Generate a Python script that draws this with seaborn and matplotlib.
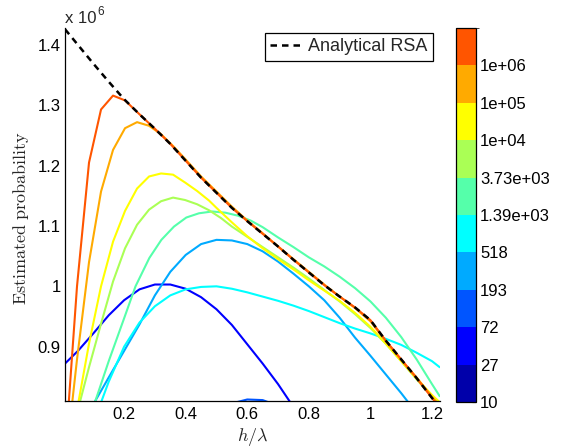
import numpy as np
import pandas as pd
import matplotlib
matplotlib.use("Agg")
import matplotlib as mpl
import matplotlib.pyplot as plt
import seaborn as sns
from matplotlib.colors import ListedColormap, BoundaryNorm
from matplotlib.ticker import FuncFormatter

# ---------------- data (values in units of 1e6) ----------------
bin_labels = ["10", "27", "72", "193", "518", "1.39e+03", "3.73e+03",
              "1e+04", "1e+05", "1e+06"]
bin_colors = ["#0000aa", "#0000ff", "#0055ff", "#00aaff", "#00ffff",
              "#55ffaa", "#aaff55", "#ffff00", "#ffaa00", "#ff5500"]

analytic_x = [0.008, 0.05, 0.1, 0.15, 0.2, 0.25, 0.3, 0.35, 0.4, 0.45, 0.5,
              0.55, 0.6, 0.65, 0.7, 0.75, 0.8, 0.85, 0.9, 0.95, 1.0, 1.05,
              1.1, 1.15, 1.2, 1.225]
analytic_y = [1.426, 1.400, 1.369, 1.339, 1.310, 1.285, 1.261, 1.236, 1.208,
              1.180, 1.155, 1.130, 1.108, 1.087, 1.066, 1.044, 1.023, 1.002,
              0.983, 0.965, 0.944, 0.910, 0.879, 0.848, 0.815, 0.800]

# bin "27"
b27_x = [0.008, 0.05, 0.1, 0.15, 0.2, 0.25, 0.3, 0.35, 0.4, 0.45, 0.5, 0.55,
         0.6, 0.65, 0.7, 0.75]
b27_y = [0.872, 0.893, 0.922, 0.952, 0.977, 0.995, 1.003, 1.003, 0.996,
         0.982, 0.962, 0.936, 0.904, 0.872, 0.838, 0.800]
# bin "72"
b72_x = [0.5, 0.55, 0.6, 0.65, 0.7]
b72_y = [0.795, 0.806, 0.8125, 0.8115, 0.802]
# bin "193"
b193_x = [0.08, 0.105, 0.15, 0.2, 0.25, 0.3, 0.35, 0.4, 0.45, 0.5, 0.55, 0.6,
          0.65, 0.7, 0.75, 0.8, 0.85, 0.9, 0.95, 1.0, 1.05, 1.1, 1.15]
b193_y = [0.785, 0.809, 0.849, 0.893, 0.937, 0.985, 1.024, 1.052, 1.070,
          1.077, 1.076, 1.070, 1.058, 1.041, 1.021, 1.000, 0.977, 0.948,
          0.915, 0.885, 0.854, 0.823, 0.790]
# bin "518"
b518_x = [0.1, 0.126, 0.15, 0.2, 0.25, 0.3, 0.35, 0.4, 0.45, 0.5, 0.55, 0.6,
          0.65, 0.7, 0.75, 0.8, 0.85, 0.9, 0.95, 1.0, 1.05, 1.1, 1.15, 1.2,
          1.225]
b518_y = [0.770, 0.809, 0.842, 0.900, 0.940, 0.967, 0.985, 0.995, 0.999,
          1.000, 0.996, 0.990, 0.983, 0.976, 0.968, 0.959, 0.949, 0.939,
          0.930, 0.922, 0.913, 0.903, 0.890, 0.876, 0.866]
# bin "1.39e+03"
b1390_x = [0.06, 0.1, 0.15, 0.2, 0.237, 0.282, 0.321, 0.362, 0.402, 0.443,
           0.486, 0.529, 0.57, 0.611, 0.65, 0.7, 0.75, 0.8, 0.85, 0.9, 0.95,
           1.0, 1.05, 1.1, 1.15, 1.2, 1.225]
b1390_y = [0.730, 0.800, 0.876, 0.947, 1.000, 1.047, 1.077, 1.099, 1.114,
           1.121, 1.124, 1.122, 1.117, 1.109, 1.098, 1.081, 1.065, 1.048,
           1.033, 1.016, 0.997, 0.975, 0.948, 0.916, 0.879, 0.838, 0.818]
# bin "3.73e+03"
b3730_x = [0.008, 0.047, 0.086, 0.125, 0.164, 0.203, 0.242, 0.281, 0.32,
           0.359, 0.398, 0.437, 0.476, 0.515, 0.55, 0.6, 0.65, 0.7, 0.75,
           0.8, 0.85, 0.9, 0.95, 1.0, 1.05, 1.1, 1.15, 1.2, 1.225]
b3730_y = [0.720, 0.790, 0.866, 0.938, 1.008, 1.063, 1.102, 1.127, 1.141,
           1.147, 1.143, 1.136, 1.126, 1.113, 1.099, 1.082, 1.065, 1.048,
           1.031, 1.013, 0.994, 0.975, 0.954, 0.931, 0.905, 0.876, 0.846,
           0.817, 0.804]
# bin "1e+04"
b1e4_x = [0.008, 0.047, 0.086, 0.125, 0.164, 0.203, 0.242, 0.281, 0.32,
          0.359, 0.398, 0.437, 0.476, 0.5, 0.55, 0.6, 0.65, 0.7, 0.75, 0.8,
          0.85, 0.9, 0.95, 1.0, 1.05, 1.1, 1.15, 1.2, 1.225]
b1e4_y = [0.670, 0.795, 0.905, 1.000, 1.074, 1.125, 1.162, 1.182, 1.187,
          1.185, 1.172, 1.158, 1.142, 1.130, 1.106, 1.083, 1.063, 1.045,
          1.028, 1.010, 0.993, 0.976, 0.956, 0.933, 0.905, 0.876, 0.847,
          0.820, 0.808]
# bin "1e+05"
b1e5_x = [0.008, 0.047, 0.086, 0.125, 0.164, 0.203, 0.242, 0.281, 0.32,
          0.36, 0.4, 0.45, 0.5, 0.55, 0.6, 0.65, 0.7, 0.75, 0.8, 0.85, 0.9,
          0.95, 1.0, 1.05, 1.1, 1.15, 1.2, 1.225]
b1e5_y = [0.700, 0.879, 1.040, 1.157, 1.226, 1.262, 1.272, 1.266, 1.252,
          1.232, 1.210, 1.182, 1.157, 1.132, 1.109, 1.088, 1.066, 1.045,
          1.024, 1.003, 0.983, 0.964, 0.942, 0.909, 0.878, 0.849, 0.817,
          0.803]
# bin "1e+06" (top colour)
b1e6_x = [0.008, 0.047, 0.086, 0.125, 0.164, 0.203, 0.25, 0.3, 0.35, 0.4,
          0.45, 0.5, 0.55, 0.6, 0.65, 0.7, 0.75, 0.8, 0.85, 0.9, 0.95, 1.0,
          1.05, 1.1, 1.15, 1.2, 1.225]
b1e6_y = [0.720, 1.000, 1.205, 1.293, 1.316, 1.308, 1.285, 1.261, 1.236,
          1.208, 1.180, 1.155, 1.130, 1.108, 1.087, 1.066, 1.044, 1.023,
          1.002, 0.983, 0.965, 0.944, 0.910, 0.879, 0.848, 0.815, 0.800]

curve_bins = [1, 2, 3, 4, 5, 6, 7, 8, 9]
curve_xs = [b27_x, b72_x, b193_x, b518_x, b1390_x, b3730_x, b1e4_x, b1e5_x, b1e6_x]
curve_ys = [b27_y, b72_y, b193_y, b518_y, b1390_y, b3730_y, b1e4_y, b1e5_y, b1e6_y]

xticks = [0.2, 0.4, 0.6, 0.8, 1.0, 1.2]
yticks = [0.9, 1.0, 1.1, 1.2, 1.3, 1.4]

# ---------------- build frame ----------------
rows = []
for b, xs, ys in zip(curve_bins, curve_xs, curve_ys):
    for xv, yv in zip(xs, ys):
        rows.append({"h": xv, "p": yv, "series": f"c{b}"})
df = pd.DataFrame(rows)
hue_order = [f"c{b}" for b in curve_bins]
palette = {f"c{b}": bin_colors[b] for b in curve_bins}
df_an = pd.DataFrame({"h": analytic_x, "p": analytic_y})

# ---------------- style ----------------
sns.set_style("white")
plt.rcParams["font.family"] = ["Liberation Sans", "DejaVu Sans"]
plt.rcParams["mathtext.fontset"] = "cm"

W, H = 563, 447
fig = plt.figure(figsize=(W / 100, H / 100), dpi=100)
ax = fig.add_axes([65 / W, 46 / H, 375 / W, 373 / H])

sns.lineplot(data=df, x="h", y="p", hue="series", hue_order=hue_order,
             palette=palette, estimator=None, sort=False, linewidth=1.5,
             legend=False, ax=ax)
sns.lineplot(data=df_an, x="h", y="p", color="black", estimator=None,
             sort=False, linewidth=1.8, label="Analytical RSA", ax=ax)
ax.lines[-1].set_dashes([2.6, 2.0])

ax.set_xlim(0.008, 1.226)
ax.set_ylim(0.81, 1.428)
ax.set_xticks(xticks)
ax.set_yticks(yticks)
fmt = FuncFormatter(lambda v, p: f"{v:g}")
ax.xaxis.set_major_formatter(fmt)
ax.yaxis.set_major_formatter(fmt)
ax.tick_params(direction="in", length=4, width=0.8, labelsize=12,
               colors="black")
ax.tick_params(axis="y", pad=3)
ax.tick_params(axis="x", pad=4)
for s in ["top", "right"]:
    ax.spines[s].set_visible(False)
for s in ["left", "bottom"]:
    ax.spines[s].set_color("black")
    ax.spines[s].set_linewidth(0.9)

ax.set_xlabel(r"$h/\lambda$", fontsize=13)
ax.set_ylabel(r"$\mathrm{Estimated\ probability}$", fontsize=13)
ax.xaxis.set_label_coords(0.5, -0.068)
ax.yaxis.set_label_coords(-0.09, 0.49)

ax.text(0.0, 1.013, "x 10", transform=ax.transAxes, fontsize=12,
        ha="left", va="baseline")
ax.text(0.085, 1.036, "6", transform=ax.transAxes, fontsize=8.5,
        ha="left", va="baseline")

leg = ax.legend(loc="upper right", bbox_to_anchor=(0.981, 0.987),
                borderaxespad=0, fontsize=13, frameon=True, fancybox=False,
                handlelength=1.8, handletextpad=0.3, borderpad=0.3)
leg.get_frame().set_edgecolor("black")
leg.get_frame().set_linewidth(0.9)
leg.get_frame().set_alpha(1)

# ---------------- colorbar ----------------
cax = fig.add_axes([455.7 / W, 45 / H, 20.3 / W, 374 / H])
cmap = ListedColormap(bin_colors)
norm = BoundaryNorm(np.arange(len(bin_colors) + 1), len(bin_colors))
cb = fig.colorbar(mpl.cm.ScalarMappable(norm=norm, cmap=cmap), cax=cax,
                  ticks=np.arange(len(bin_labels)))
cb.set_ticklabels(bin_labels)
cax.tick_params(direction="in", length=3, width=0.8, labelsize=12, pad=3,
                colors="black")
cb.outline.set_linewidth(0.9)
cb.outline.set_edgecolor("black")

fig.savefig("out.png", dpi=100)
